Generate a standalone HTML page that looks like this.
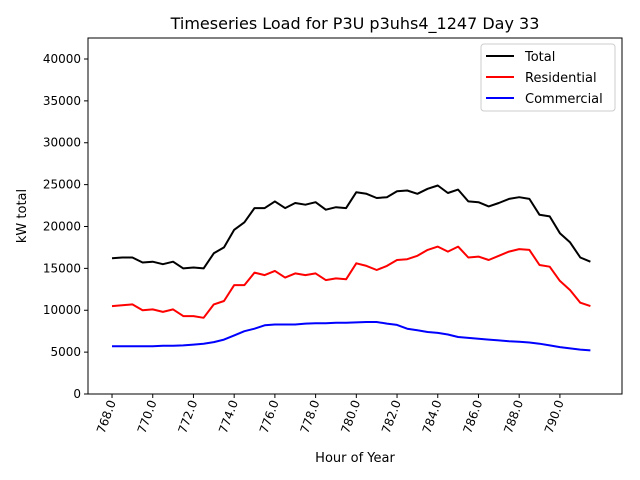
<!DOCTYPE html>
<html><head><meta charset="utf-8"><style>
body{margin:0;background:#fff;}
svg{display:block;font-family:"DejaVu Sans","Liberation Sans",sans-serif;}
</style></head><body>
<svg id="chart" width="640" height="480" xmlns="http://www.w3.org/2000/svg">
<rect width="640" height="480" fill="#fff"/>
<text x="355" y="29" font-size="16" text-anchor="middle">Timeseries Load for P3U p3uhs4_1247  Day 33</text>
<g id="grid"></g>
<g id="series"></g>
<rect x="88" y="38" width="534" height="356" fill="none" stroke="#000" stroke-width="1"/>
<text x="355" y="462" font-size="13" text-anchor="middle">Hour of Year</text>
<text transform="translate(26,216) rotate(-90)" font-size="13" text-anchor="middle">kW total</text>
<g>
<rect x="481" y="44" width="134" height="67" rx="3" fill="#fff" stroke="#ccc" stroke-width="1"/>
<g><line x1="486" y1="56" x2="514" y2="56" stroke="#000" stroke-width="2"/><text x="525" y="61" font-size="13">Total</text></g>
<g><line x1="486" y1="77" x2="514" y2="77" stroke="red" stroke-width="2"/><text x="525" y="82" font-size="13">Residential</text></g>
<g><line x1="486" y1="98" x2="514" y2="98" stroke="blue" stroke-width="2"/><text x="525" y="103" font-size="13">Commercial</text></g>
</g>
</svg>
<script>
const hourStart = 768;
const hourStep = 0.5;
const totalLoad = [16200,16300,16300,15700,15800,15500,15800,15000,15100,15000,16800,17500,19600,20500,22200,22200,23000,22200,22800,22600,22900,22000,22300,22200,24100,23900,23400,23500,24200,24300,23900,24500,24900,24000,24400,23000,22900,22400,22800,23300,23500,23300,21400,21200,19200,18100,16300,15800];
const residentialLoad = [10500,10600,10700,10000,10100,9800,10100,9300,9300,9100,10700,11100,13000,13000,14500,14200,14700,13900,14400,14200,14400,13600,13800,13700,15600,15300,14800,15300,16000,16100,16500,17200,17600,17000,17600,16300,16400,16000,16500,17000,17300,17200,15400,15200,13500,12400,10900,10500];
const commercialLoad = [5700,5700,5700,5700,5700,5750,5750,5800,5900,6000,6200,6500,7000,7500,7800,8200,8300,8300,8300,8400,8450,8450,8500,8500,8550,8600,8600,8400,8250,7800,7600,7400,7300,7100,6800,6700,6600,6500,6400,6300,6250,6150,6000,5800,5600,5450,5300,5200];
const xTicks = [768,770,772,774,776,778,780,782,784,786,788,790];
const yTicks = [0,5000,10000,15000,20000,25000,30000,35000,40000];

const X0=88,X1=622,Y0=394,Y1=38;
const xMin=766.82,xMax=793.05,yMin=0,yMax=42507;
function xs(v){return X0+(v-xMin)/(xMax-xMin)*(X1-X0);}
function ys(v){return Y0-(v-yMin)/(yMax-yMin)*(Y0-Y1);}
const NS="http://www.w3.org/2000/svg";
const svg=document.getElementById('chart');
const grid=document.getElementById('grid');
const ser=document.getElementById('series');

yTicks.forEach(t=>{
  const y=ys(t);
  const l=document.createElementNS(NS,'line');
  l.setAttribute('x1',X0-4);l.setAttribute('x2',X0);l.setAttribute('y1',y);l.setAttribute('y2',y);
  l.setAttribute('stroke','#000');
  
  
  grid.appendChild(l);
  const tx=document.createElementNS(NS,'text');
  tx.setAttribute('x',X0-7);tx.setAttribute('y',y+4);tx.setAttribute('font-size','12');tx.setAttribute('text-anchor','end');
  tx.textContent=t;
  
  
  grid.appendChild(tx);
});
xTicks.forEach(t=>{
  const x=xs(t);
  const l=document.createElementNS(NS,'line');
  l.setAttribute('x1',x);l.setAttribute('x2',x);l.setAttribute('y1',Y0);l.setAttribute('y2',Y0+4);
  l.setAttribute('stroke','#000');
  
  
  grid.appendChild(l);
  const tx=document.createElementNS(NS,'text');
  tx.setAttribute('transform','translate('+(x+4)+','+(Y0+8)+') rotate(-70)');
  tx.setAttribute('font-size','12');tx.setAttribute('text-anchor','end');
  tx.textContent=t.toFixed(1);
  
  
  grid.appendChild(tx);
});
function drawLine(arr,color,name){
  const p=document.createElementNS(NS,'polyline');
  p.setAttribute('points',arr.map((v,i)=>xs(hourStart+i*hourStep).toFixed(1)+','+ys(v).toFixed(1)).join(' '));
  p.setAttribute('fill','none');p.setAttribute('stroke',color);p.setAttribute('stroke-width','2');
  p.setAttribute('stroke-linejoin','round');
  
  
  ser.appendChild(p);
}
drawLine(totalLoad,'#000','total-line');
drawLine(residentialLoad,'red','residential-line');
drawLine(commercialLoad,'blue','commercial-line');
</script>
</body></html>
